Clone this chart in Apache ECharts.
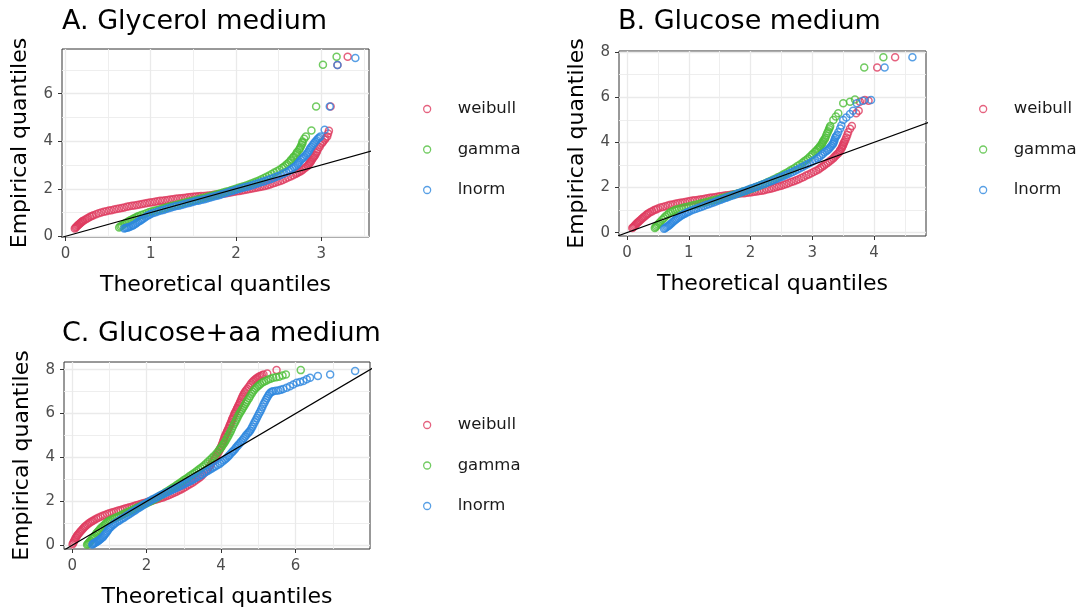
<!DOCTYPE html>
<html><head><meta charset="utf-8">
<script src="https://cdn.jsdelivr.net/npm/echarts@6/dist/echarts.min.js"></script>
<style>html,body{margin:0;padding:0;background:#fff}#c{width:1085px;height:615px}</style>
</head><body><div id="c"></div>
<script>
const distNames = ['weibull', 'gamma', 'lnorm'];
const distColors = ['#DE3B5F', '#4DBE3A', '#2D87DE'];
const panelTitles = ['A. Glycerol medium', 'B. Glucose medium', 'C. Glucose+aa medium'];
const xTitle = 'Theoretical quantiles';
const yTitle = 'Empirical quantiles';

const xTicksA = [0, 1, 2, 3];       const xMinorA = [0.5, 1.5, 2.5, 3.5];
const yTicksA = [0, 2, 4, 6];       const yMinorA = [1, 3, 5, 7];
const xTicksB = [0, 1, 2, 3, 4];    const xMinorB = [0.5, 1.5, 2.5, 3.5, 4.5];
const yTicksB = [0, 2, 4, 6, 8];    const yMinorB = [1, 3, 5, 7];
const xTicksC = [0, 2, 4, 6];       const xMinorC = [1, 3, 5, 7];
const yTicksC = [0, 2, 4, 6, 8];    const yMinorC = [1, 3, 5, 7];

const refLine = [[-1, -1], [10, 10]];

// Panel A: Glycerol
const glycWeibull = [[0.11,0.33],[0.12,0.37],[0.13,0.40],[0.14,0.44],[0.15,0.47],[0.16,0.51],[0.17,0.54],[0.18,0.57],[0.19,0.60],[0.20,0.63],[0.21,0.65],[0.23,0.70],[0.25,0.74],[0.27,0.78],[0.29,0.82],[0.31,0.85],[0.33,0.89],[0.36,0.93],[0.39,0.97],[0.42,1.00],[0.45,1.03],[0.48,1.05],[0.51,1.08],[0.54,1.10],[0.57,1.13],[0.60,1.15],[0.63,1.17],[0.66,1.19],[0.69,1.21],[0.72,1.24],[0.75,1.26],[0.78,1.28],[0.81,1.30],[0.84,1.32],[0.87,1.34],[0.90,1.36],[0.93,1.38],[0.96,1.40],[0.99,1.42],[1.02,1.43],[1.05,1.45],[1.08,1.47],[1.11,1.49],[1.14,1.50],[1.17,1.52],[1.20,1.53],[1.23,1.55],[1.26,1.56],[1.29,1.58],[1.32,1.59],[1.35,1.60],[1.38,1.61],[1.41,1.62],[1.44,1.64],[1.47,1.65],[1.50,1.66],[1.53,1.67],[1.56,1.68],[1.59,1.69],[1.62,1.70],[1.65,1.71],[1.68,1.72],[1.71,1.73],[1.74,1.75],[1.77,1.76],[1.80,1.77],[1.83,1.78],[1.86,1.80],[1.89,1.81],[1.92,1.83],[1.95,1.85],[1.98,1.87],[2.01,1.89],[2.04,1.91],[2.07,1.93],[2.10,1.95],[2.13,1.97],[2.16,1.99],[2.19,2.01],[2.22,2.03],[2.25,2.05],[2.28,2.07],[2.31,2.09],[2.34,2.12],[2.37,2.15],[2.40,2.18],[2.43,2.22],[2.46,2.25],[2.49,2.29],[2.52,2.33],[2.55,2.37],[2.58,2.42],[2.61,2.47],[2.64,2.52],[2.67,2.57],[2.70,2.62],[2.72,2.66],[2.74,2.70],[2.76,2.74],[2.78,2.79],[2.80,2.85],[2.82,2.90],[2.84,2.96],[2.85,3.01],[2.86,3.06],[2.87,3.11],[2.88,3.16],[2.89,3.22],[2.90,3.28],[2.91,3.33],[2.92,3.38],[2.93,3.43],[2.94,3.50],[2.95,3.57],[2.96,3.66],[2.98,3.76],[2.99,3.85],[3.01,3.93],[3.02,3.98],[3.04,4.06],[3.05,4.12],[3.07,4.20],[3.08,4.32],[3.09,4.44],[3.11,5.46],[3.19,7.21],[3.31,7.55]];
const glycGamma = [[0.63,0.37],[0.645,0.41],[0.66,0.45],[0.68,0.50],[0.70,0.55],[0.72,0.59],[0.74,0.63],[0.76,0.67],[0.78,0.71],[0.80,0.75],[0.82,0.78],[0.84,0.82],[0.86,0.85],[0.89,0.90],[0.92,0.93],[0.95,0.97],[0.98,1.01],[1.01,1.04],[1.04,1.07],[1.07,1.10],[1.10,1.13],[1.13,1.16],[1.16,1.19],[1.19,1.22],[1.22,1.25],[1.25,1.28],[1.28,1.30],[1.31,1.33],[1.34,1.36],[1.37,1.39],[1.40,1.41],[1.43,1.44],[1.46,1.47],[1.49,1.49],[1.52,1.52],[1.55,1.55],[1.58,1.58],[1.61,1.61],[1.64,1.63],[1.67,1.66],[1.70,1.69],[1.73,1.72],[1.76,1.75],[1.79,1.78],[1.82,1.81],[1.85,1.84],[1.88,1.87],[1.91,1.90],[1.94,1.94],[1.97,1.97],[2.00,2.00],[2.03,2.04],[2.06,2.07],[2.09,2.11],[2.12,2.14],[2.15,2.18],[2.18,2.22],[2.21,2.26],[2.24,2.31],[2.27,2.35],[2.30,2.40],[2.33,2.45],[2.36,2.51],[2.39,2.56],[2.42,2.62],[2.45,2.68],[2.48,2.74],[2.51,2.80],[2.54,2.87],[2.56,2.92],[2.58,2.98],[2.60,3.04],[2.62,3.10],[2.64,3.18],[2.65,3.23],[2.67,3.30],[2.68,3.36],[2.70,3.42],[2.71,3.49],[2.72,3.56],[2.74,3.64],[2.75,3.70],[2.76,3.78],[2.77,3.85],[2.78,3.93],[2.78,3.99],[2.80,4.10],[2.82,4.20],[2.885,4.45],[2.94,5.46],[3.02,7.22],[3.18,7.55]];
const glycLnorm = [[0.69,0.33],[0.705,0.345],[0.72,0.36],[0.735,0.375],[0.75,0.39],[0.77,0.42],[0.79,0.45],[0.80,0.48],[0.82,0.52],[0.835,0.56],[0.85,0.60],[0.87,0.64],[0.885,0.68],[0.90,0.72],[0.92,0.76],[0.94,0.81],[0.96,0.86],[0.98,0.90],[1.00,0.94],[1.03,0.98],[1.06,1.01],[1.09,1.05],[1.12,1.08],[1.15,1.11],[1.18,1.15],[1.21,1.18],[1.24,1.21],[1.27,1.24],[1.30,1.27],[1.33,1.29],[1.36,1.32],[1.39,1.35],[1.42,1.38],[1.45,1.40],[1.48,1.43],[1.51,1.46],[1.54,1.49],[1.57,1.51],[1.60,1.54],[1.63,1.56],[1.66,1.59],[1.69,1.62],[1.72,1.65],[1.75,1.68],[1.78,1.71],[1.81,1.74],[1.84,1.78],[1.87,1.81],[1.90,1.84],[1.93,1.88],[1.96,1.91],[1.99,1.95],[2.02,1.98],[2.05,2.01],[2.08,2.04],[2.11,2.07],[2.14,2.10],[2.17,2.13],[2.20,2.16],[2.23,2.20],[2.26,2.23],[2.29,2.27],[2.32,2.30],[2.35,2.34],[2.38,2.38],[2.41,2.41],[2.44,2.45],[2.47,2.50],[2.50,2.54],[2.53,2.59],[2.56,2.64],[2.59,2.69],[2.62,2.75],[2.64,2.80],[2.66,2.85],[2.68,2.90],[2.70,2.96],[2.72,3.02],[2.73,3.08],[2.745,3.14],[2.76,3.21],[2.775,3.26],[2.79,3.30],[2.80,3.36],[2.82,3.42],[2.835,3.49],[2.85,3.56],[2.86,3.63],[2.87,3.70],[2.885,3.77],[2.90,3.84],[2.915,3.91],[2.93,3.98],[2.945,4.04],[2.96,4.10],[2.975,4.15],[2.99,4.20],[3.04,4.48],[3.10,5.46],[3.19,7.21],[3.40,7.50]];

// Panel B: Glucose
const glucWeibull = [[0.085,0.20],[0.10,0.24],[0.115,0.28],[0.13,0.33],[0.145,0.37],[0.16,0.41],[0.175,0.45],[0.19,0.49],[0.21,0.54],[0.23,0.59],[0.25,0.64],[0.27,0.69],[0.29,0.73],[0.31,0.78],[0.33,0.82],[0.35,0.86],[0.38,0.91],[0.41,0.95],[0.44,1.00],[0.47,1.03],[0.50,1.07],[0.54,1.11],[0.58,1.14],[0.62,1.17],[0.66,1.20],[0.70,1.23],[0.74,1.25],[0.78,1.28],[0.82,1.30],[0.86,1.32],[0.90,1.34],[0.94,1.36],[0.98,1.38],[1.02,1.40],[1.06,1.42],[1.10,1.44],[1.14,1.45],[1.18,1.47],[1.22,1.48],[1.26,1.50],[1.30,1.52],[1.34,1.54],[1.38,1.56],[1.42,1.57],[1.46,1.59],[1.50,1.61],[1.54,1.62],[1.58,1.64],[1.62,1.66],[1.66,1.67],[1.70,1.69],[1.74,1.70],[1.78,1.71],[1.82,1.73],[1.86,1.74],[1.90,1.75],[1.94,1.77],[1.98,1.78],[2.02,1.79],[2.06,1.81],[2.10,1.82],[2.14,1.84],[2.18,1.86],[2.22,1.88],[2.26,1.91],[2.30,1.93],[2.34,1.96],[2.38,1.99],[2.42,2.02],[2.46,2.05],[2.50,2.08],[2.54,2.12],[2.58,2.16],[2.62,2.20],[2.66,2.24],[2.70,2.28],[2.74,2.32],[2.78,2.37],[2.82,2.42],[2.86,2.47],[2.90,2.53],[2.94,2.58],[2.98,2.63],[3.02,2.69],[3.06,2.74],[3.10,2.80],[3.13,2.86],[3.16,2.92],[3.19,2.98],[3.22,3.04],[3.25,3.10],[3.28,3.16],[3.31,3.23],[3.34,3.30],[3.36,3.36],[3.38,3.42],[3.40,3.47],[3.42,3.52],[3.44,3.59],[3.45,3.65],[3.47,3.72],[3.48,3.78],[3.49,3.84],[3.50,3.90],[3.51,3.97],[3.52,4.03],[3.535,4.12],[3.55,4.22],[3.565,4.33],[3.58,4.45],[3.61,4.60],[3.64,4.73],[3.71,5.29],[3.75,5.40],[3.77,5.80],[3.85,5.88],[3.91,5.85],[4.05,7.32],[4.34,7.77]];
const glucGamma = [[0.45,0.20],[0.465,0.25],[0.48,0.30],[0.50,0.36],[0.52,0.42],[0.54,0.48],[0.57,0.57],[0.595,0.64],[0.62,0.71],[0.65,0.78],[0.68,0.86],[0.71,0.91],[0.74,0.95],[0.77,0.99],[0.80,1.02],[0.84,1.05],[0.88,1.08],[0.92,1.11],[0.96,1.14],[1.00,1.16],[1.04,1.19],[1.08,1.22],[1.12,1.24],[1.16,1.27],[1.20,1.30],[1.24,1.32],[1.28,1.35],[1.32,1.38],[1.36,1.40],[1.40,1.43],[1.44,1.46],[1.48,1.48],[1.52,1.52],[1.56,1.55],[1.60,1.58],[1.64,1.61],[1.68,1.64],[1.72,1.68],[1.76,1.71],[1.80,1.74],[1.84,1.78],[1.88,1.82],[1.92,1.85],[1.96,1.89],[2.00,1.93],[2.04,1.97],[2.08,2.01],[2.12,2.05],[2.16,2.10],[2.20,2.14],[2.24,2.19],[2.28,2.24],[2.32,2.29],[2.36,2.34],[2.40,2.39],[2.44,2.45],[2.48,2.50],[2.52,2.56],[2.56,2.62],[2.60,2.68],[2.64,2.75],[2.68,2.81],[2.72,2.88],[2.76,2.95],[2.80,3.02],[2.84,3.10],[2.87,3.16],[2.90,3.22],[2.93,3.29],[2.96,3.36],[2.99,3.44],[3.01,3.50],[3.04,3.57],[3.06,3.62],[3.08,3.68],[3.10,3.74],[3.12,3.80],[3.13,3.85],[3.15,3.91],[3.16,3.96],[3.17,4.02],[3.18,4.08],[3.20,4.14],[3.21,4.20],[3.225,4.30],[3.24,4.40],[3.255,4.49],[3.27,4.58],[3.28,4.66],[3.29,4.73],[3.34,4.99],[3.38,5.15],[3.42,5.29],[3.50,5.73],[3.61,5.80],[3.69,5.90],[3.84,7.32],[4.15,7.77]];
const glucLnorm = [[0.60,0.17],[0.62,0.21],[0.64,0.25],[0.66,0.28],[0.68,0.32],[0.70,0.37],[0.72,0.42],[0.74,0.47],[0.76,0.52],[0.78,0.56],[0.80,0.60],[0.825,0.65],[0.85,0.70],[0.875,0.75],[0.90,0.79],[0.925,0.83],[0.95,0.86],[0.975,0.90],[1.00,0.93],[1.04,0.98],[1.08,1.02],[1.12,1.06],[1.16,1.10],[1.20,1.14],[1.24,1.18],[1.28,1.22],[1.32,1.26],[1.36,1.30],[1.40,1.34],[1.44,1.38],[1.48,1.42],[1.52,1.46],[1.56,1.50],[1.60,1.54],[1.64,1.58],[1.68,1.62],[1.72,1.66],[1.76,1.70],[1.80,1.74],[1.84,1.78],[1.88,1.82],[1.92,1.86],[1.96,1.90],[2.00,1.94],[2.04,1.98],[2.08,2.02],[2.12,2.06],[2.16,2.10],[2.20,2.14],[2.24,2.18],[2.28,2.23],[2.32,2.27],[2.36,2.31],[2.40,2.36],[2.44,2.40],[2.48,2.45],[2.52,2.49],[2.56,2.54],[2.60,2.59],[2.64,2.64],[2.68,2.69],[2.72,2.74],[2.76,2.80],[2.80,2.85],[2.84,2.91],[2.88,2.97],[2.92,3.03],[2.96,3.09],[3.00,3.15],[3.04,3.22],[3.08,3.29],[3.11,3.35],[3.14,3.42],[3.17,3.49],[3.20,3.56],[3.23,3.62],[3.25,3.66],[3.27,3.72],[3.29,3.78],[3.31,3.85],[3.33,3.92],[3.34,3.96],[3.35,4.04],[3.36,4.12],[3.37,4.20],[3.385,4.27],[3.40,4.33],[3.42,4.45],[3.45,4.62],[3.47,4.75],[3.50,4.99],[3.55,5.10],[3.61,5.26],[3.66,5.40],[3.72,5.73],[3.82,5.85],[3.95,5.88],[4.17,7.32],[4.62,7.77]];

// Panel C: Glucose + amino acids
const gaaWeibull = [[0.01,0.05],[0.03,0.12],[0.05,0.18],[0.07,0.25],[0.09,0.32],[0.11,0.37],[0.13,0.43],[0.15,0.48],[0.18,0.54],[0.21,0.60],[0.24,0.66],[0.27,0.72],[0.30,0.78],[0.33,0.83],[0.36,0.88],[0.40,0.94],[0.44,0.99],[0.48,1.04],[0.52,1.08],[0.56,1.12],[0.60,1.16],[0.65,1.21],[0.70,1.25],[0.76,1.30],[0.82,1.34],[0.88,1.38],[0.94,1.42],[1.00,1.46],[1.06,1.49],[1.12,1.52],[1.18,1.55],[1.24,1.58],[1.30,1.61],[1.36,1.64],[1.42,1.67],[1.48,1.70],[1.54,1.73],[1.60,1.76],[1.66,1.79],[1.72,1.82],[1.78,1.85],[1.84,1.88],[1.90,1.91],[1.96,1.94],[2.02,1.97],[2.08,2.00],[2.14,2.03],[2.20,2.06],[2.26,2.09],[2.32,2.12],[2.38,2.15],[2.44,2.18],[2.50,2.22],[2.56,2.26],[2.62,2.30],[2.68,2.35],[2.74,2.39],[2.80,2.44],[2.86,2.49],[2.92,2.54],[2.98,2.60],[3.04,2.66],[3.10,2.72],[3.16,2.78],[3.22,2.84],[3.28,2.91],[3.34,2.98],[3.40,3.05],[3.45,3.12],[3.50,3.20],[3.55,3.30],[3.60,3.40],[3.64,3.48],[3.68,3.57],[3.72,3.66],[3.75,3.75],[3.79,3.84],[3.82,3.92],[3.85,4.01],[3.88,4.10],[3.91,4.19],[3.93,4.25],[3.95,4.32],[3.97,4.38],[3.99,4.45],[4.01,4.52],[4.03,4.60],[4.04,4.65],[4.06,4.75],[4.07,4.80],[4.09,4.90],[4.10,4.96],[4.12,5.03],[4.14,5.10],[4.16,5.17],[4.17,5.22],[4.19,5.30],[4.21,5.36],[4.23,5.44],[4.24,5.49],[4.26,5.56],[4.27,5.62],[4.29,5.70],[4.30,5.75],[4.32,5.82],[4.34,5.90],[4.36,5.98],[4.37,6.03],[4.39,6.10],[4.41,6.16],[4.43,6.23],[4.44,6.27],[4.46,6.34],[4.48,6.40],[4.50,6.47],[4.51,6.52],[4.53,6.60],[4.55,6.68],[4.57,6.76],[4.59,6.84],[4.62,6.92],[4.64,6.98],[4.67,7.05],[4.70,7.12],[4.74,7.21],[4.78,7.30],[4.81,7.38],[4.85,7.45],[4.88,7.51],[4.92,7.56],[4.95,7.60],[4.98,7.64],[5.02,7.68],[5.05,7.71],[5.10,7.75],[5.14,7.78],[5.24,7.83],[5.49,7.98]];
const gaaGamma = [[0.40,0.02],[0.42,0.06],[0.44,0.10],[0.46,0.14],[0.48,0.18],[0.50,0.22],[0.53,0.28],[0.555,0.33],[0.58,0.38],[0.61,0.45],[0.64,0.52],[0.67,0.58],[0.70,0.64],[0.73,0.70],[0.76,0.76],[0.79,0.81],[0.83,0.88],[0.87,0.94],[0.90,0.99],[0.94,1.04],[0.97,1.08],[1.01,1.12],[1.05,1.16],[1.10,1.20],[1.15,1.24],[1.20,1.28],[1.25,1.32],[1.30,1.36],[1.35,1.40],[1.40,1.44],[1.45,1.48],[1.50,1.52],[1.55,1.56],[1.60,1.60],[1.65,1.64],[1.70,1.68],[1.75,1.72],[1.80,1.76],[1.85,1.80],[1.90,1.84],[1.95,1.88],[2.00,1.92],[2.05,1.96],[2.10,2.00],[2.15,2.04],[2.20,2.09],[2.25,2.13],[2.30,2.18],[2.35,2.24],[2.40,2.29],[2.45,2.34],[2.50,2.40],[2.55,2.45],[2.60,2.51],[2.65,2.56],[2.70,2.62],[2.75,2.67],[2.80,2.73],[2.85,2.79],[2.90,2.85],[2.95,2.91],[3.00,2.97],[3.05,3.02],[3.10,3.08],[3.15,3.14],[3.20,3.20],[3.25,3.26],[3.30,3.32],[3.35,3.38],[3.40,3.45],[3.45,3.51],[3.50,3.58],[3.55,3.65],[3.60,3.72],[3.65,3.80],[3.70,3.88],[3.75,3.96],[3.80,4.05],[3.85,4.14],[3.90,4.24],[3.95,4.35],[3.99,4.43],[4.02,4.50],[4.05,4.58],[4.08,4.65],[4.11,4.73],[4.14,4.82],[4.17,4.91],[4.20,5.00],[4.23,5.10],[4.26,5.20],[4.29,5.31],[4.32,5.42],[4.35,5.52],[4.38,5.62],[4.41,5.72],[4.44,5.82],[4.47,5.92],[4.50,6.02],[4.53,6.10],[4.56,6.18],[4.59,6.27],[4.62,6.35],[4.65,6.44],[4.68,6.52],[4.71,6.61],[4.75,6.70],[4.78,6.80],[4.82,6.90],[4.85,6.99],[4.89,7.08],[4.93,7.15],[4.97,7.22],[5.01,7.28],[5.05,7.34],[5.10,7.40],[5.15,7.45],[5.21,7.50],[5.27,7.55],[5.33,7.59],[5.40,7.63],[5.48,7.66],[5.56,7.68],[5.65,7.73],[5.74,7.78],[6.14,7.98]];
const gaaLnorm = [[0.54,0.04],[0.56,0.06],[0.58,0.08],[0.60,0.10],[0.62,0.12],[0.645,0.145],[0.67,0.17],[0.695,0.20],[0.72,0.23],[0.745,0.265],[0.77,0.30],[0.80,0.34],[0.83,0.38],[0.855,0.44],[0.88,0.50],[0.91,0.56],[0.94,0.63],[0.965,0.70],[0.99,0.76],[1.02,0.81],[1.05,0.86],[1.09,0.92],[1.12,0.96],[1.16,1.01],[1.21,1.07],[1.26,1.12],[1.30,1.17],[1.35,1.22],[1.40,1.27],[1.45,1.33],[1.50,1.38],[1.55,1.44],[1.60,1.49],[1.65,1.55],[1.70,1.60],[1.75,1.66],[1.80,1.71],[1.85,1.77],[1.90,1.82],[1.95,1.88],[2.00,1.93],[2.05,1.98],[2.10,2.03],[2.15,2.08],[2.20,2.12],[2.25,2.17],[2.30,2.21],[2.35,2.26],[2.40,2.30],[2.45,2.34],[2.50,2.38],[2.55,2.42],[2.60,2.46],[2.65,2.50],[2.70,2.54],[2.75,2.58],[2.80,2.62],[2.85,2.66],[2.90,2.70],[2.95,2.74],[3.00,2.78],[3.05,2.83],[3.10,2.87],[3.15,2.91],[3.20,2.95],[3.25,3.00],[3.30,3.05],[3.36,3.11],[3.43,3.17],[3.49,3.23],[3.55,3.29],[3.60,3.35],[3.65,3.40],[3.70,3.45],[3.75,3.50],[3.80,3.55],[3.85,3.60],[3.91,3.66],[3.97,3.72],[4.02,3.79],[4.07,3.86],[4.11,3.92],[4.15,3.98],[4.19,4.04],[4.22,4.10],[4.26,4.18],[4.30,4.25],[4.33,4.31],[4.37,4.38],[4.40,4.45],[4.44,4.52],[4.47,4.59],[4.51,4.66],[4.54,4.73],[4.58,4.80],[4.61,4.88],[4.65,4.96],[4.68,5.03],[4.72,5.10],[4.75,5.16],[4.78,5.22],[4.81,5.31],[4.84,5.40],[4.87,5.50],[4.90,5.60],[4.93,5.70],[4.96,5.80],[4.99,5.90],[5.02,6.00],[5.05,6.10],[5.08,6.20],[5.11,6.31],[5.14,6.42],[5.17,6.52],[5.20,6.62],[5.23,6.71],[5.26,6.80],[5.29,6.88],[5.32,6.95],[5.36,6.99],[5.40,7.02],[5.47,7.04],[5.54,7.05],[5.60,7.08],[5.67,7.12],[5.76,7.18],[5.85,7.25],[5.94,7.33],[6.03,7.40],[6.12,7.44],[6.21,7.48],[6.30,7.56],[6.39,7.63],[6.60,7.71],[6.93,7.78],[7.60,7.94]];

const FONT = '"DejaVu Sans", sans-serif';
const panels = [
  { grid: {left: 62, top: 49, width: 307, height: 188}, xr: [-0.04, 3.56], yr: [-0.03, 7.88],
    xt: xTicksA, xm: xMinorA, yt: yTicksA, ym: yMinorA, series: [glycWeibull, glycGamma, glycLnorm],
    title: {left: 62, top: 8}, legend: {left: 423, top: 100} },
  { grid: {left: 619, top: 51, width: 307, height: 185}, xr: [-0.13, 4.84], yr: [-0.15, 8.05],
    xt: xTicksB, xm: xMinorB, yt: yTicksB, ym: yMinorB, series: [glucWeibull, glucGamma, glucLnorm],
    title: {left: 618, top: 8}, legend: {left: 979, top: 100} },
  { grid: {left: 64, top: 362, width: 306, height: 187}, xr: [-0.22, 8.0], yr: [-0.17, 8.35],
    xt: xTicksC, xm: xMinorC, yt: yTicksC, ym: yMinorC, series: [gaaWeibull, gaaGamma, gaaLnorm],
    title: {left: 62, top: 320}, legend: {left: 423, top: 416} }
];

const option = { animation: false, backgroundColor: '#fff',
  grid: [], xAxis: [], yAxis: [], series: [], title: [], legend: [] };

panels.forEach((p, i) => {
  option.grid.push(Object.assign({ show: true, borderColor: '#333', borderWidth: 1, backgroundColor: 'rgba(0,0,0,0)' }, p.grid));
  const major = (ticks, isX, range) => ({
    type: 'value', gridIndex: i, min: range[0], max: range[1],
    position: isX ? 'bottom' : 'left',
    axisLine: { show: false, onZero: false },
    axisTick: { show: true, length: 4, lineStyle: { color: '#333', width: 1 }, customValues: ticks },
    axisLabel: { customValues: ticks, color: '#4D4D4D', fontSize: 15, fontFamily: FONT, margin: isX ? 10 : 9 },
    splitLine: { show: true, lineStyle: { color: '#EAEAEA', width: 1.3 } },
    minorTick: { show: false }, minorSplitLine: { show: false },
    name: isX ? xTitle : yTitle, nameLocation: 'middle', nameGap: isX ? 37 : 31,
    nameTextStyle: { fontSize: 22, color: '#000', fontFamily: FONT }
  });
  const minor = (ticks, isX, range) => ({
    type: 'value', gridIndex: i, min: range[0], max: range[1],
    position: isX ? 'top' : 'right',
    axisLine: { show: false, onZero: false },
    axisTick: { show: false, customValues: ticks },
    axisLabel: { show: false },
    splitLine: { show: true, lineStyle: { color: '#ECECEC', width: 0.9 } }
  });
  option.xAxis.push(major(p.xt, true, p.xr), minor(p.xm, true, p.xr));
  option.yAxis.push(major(p.yt, false, p.yr), minor(p.ym, false, p.yr));
  const ax = 2 * i;
  p.series.forEach((d, k) => {
    option.series.push({
      type: 'scatter', name: distNames[k], xAxisIndex: ax, yAxisIndex: ax, data: d,
      symbol: 'circle', symbolSize: 7, silent: true,
      itemStyle: { color: 'rgba(0,0,0,0)', borderColor: distColors[k], borderWidth: 1.5 },
      emphasis: { disabled: true }, z: 3
    });
  });
  option.series.push({
    type: 'line', name: 'ref', xAxisIndex: ax, yAxisIndex: ax, data: refLine,
    symbol: 'none', clip: true, silent: true, lineStyle: { color: '#000', width: 1.2 }, z: 4
  });
  option.title.push({ text: panelTitles[i], left: p.title.left, top: p.title.top, padding: 0,
    textStyle: { fontSize: 27, fontWeight: 'normal', color: '#000', fontFamily: FONT } });
  option.legend.push({ data: distNames, orient: 'vertical', left: p.legend.left, top: p.legend.top,
    padding: 0, itemWidth: 7, itemHeight: 7, itemGap: 22.5, icon: 'circle', selectedMode: false,
    itemStyle: { color: 'rgba(0,0,0,0)', borderColor: 'inherit', borderWidth: 1.3 },
    textStyle: { fontSize: 16.5, color: '#1A1A1A', fontFamily: FONT, lineHeight: 18, padding: [0, 0, 0, 22] } });
});

const chart = echarts.init(document.getElementById('c'), null, { renderer: 'canvas' });
chart.setOption(option);
</script></body></html>
